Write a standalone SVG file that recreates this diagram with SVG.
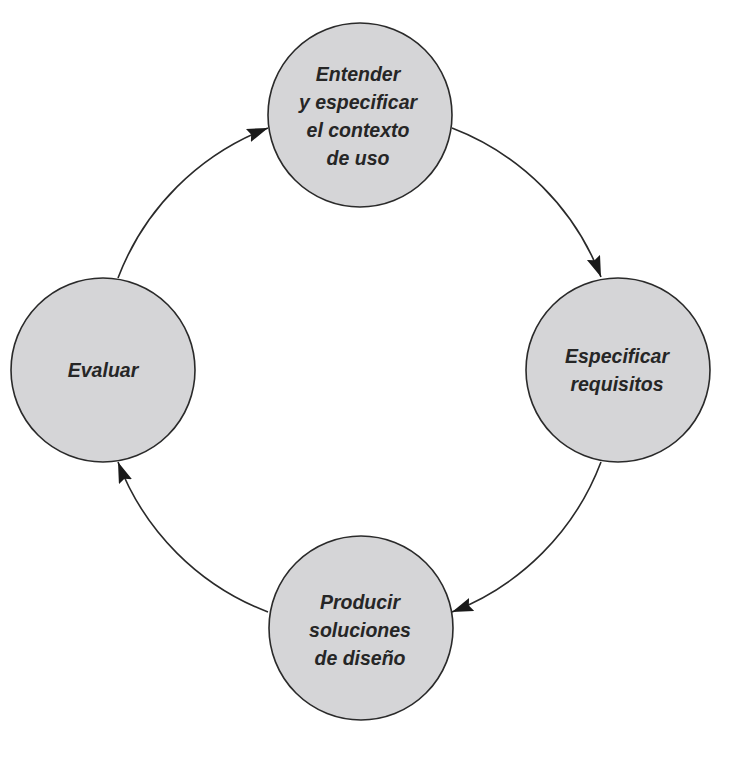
<svg xmlns="http://www.w3.org/2000/svg" width="743" height="768" viewBox="0 0 743 768">
<style>
.node circle{fill:#d5d5d7;stroke:#2a2a2a;stroke-width:1.6}
.node text{font-family:"Liberation Sans",Arial,sans-serif;font-weight:bold;font-style:italic;font-size:19.5px;fill:#262626;text-anchor:middle}
.conn path{fill:none;stroke:#2a2a2a;stroke-width:1.6;marker-end:url(#ah)}
</style>
<defs>
<marker id="ah" markerUnits="userSpaceOnUse" markerWidth="24" markerHeight="16" refX="21" refY="7" orient="auto">
<path d="M0,0 L21,7 L0,14 L3,7 z" fill="#1a1a1a"/>
</marker>
</defs>
<rect width="743" height="768" fill="#fff"/>
<g class="conn" id="connectors">
<path d="M452,128 A259,259 0 0 1 601,277"/>
<path d="M601,462 A259,259 0 0 1 452,612"/>
<path d="M268,612 A259,259 0 0 1 118,462"/>
<path d="M118,278 A259,259 0 0 1 268,128"/>
</g>
<g class="node" id="entender">
<circle cx="360" cy="115" r="92"/>
<text x="358" y="81">Entender</text>
<text x="358" y="109">y especificar</text>
<text x="358" y="137">el contexto</text>
<text x="358" y="165">de uso</text>
</g>
<g class="node" id="especificar">
<circle cx="618" cy="370" r="92"/>
<text x="617" y="363">Especificar</text>
<text x="617" y="391">requisitos</text>
</g>
<g class="node" id="producir">
<circle cx="361" cy="628" r="92"/>
<text x="360" y="609">Producir</text>
<text x="360" y="637">soluciones</text>
<text x="360" y="665">de diseño</text>
</g>
<g class="node" id="evaluar">
<circle cx="103" cy="370" r="92"/>
<text x="103" y="377">Evaluar</text>
</g>
</svg>
